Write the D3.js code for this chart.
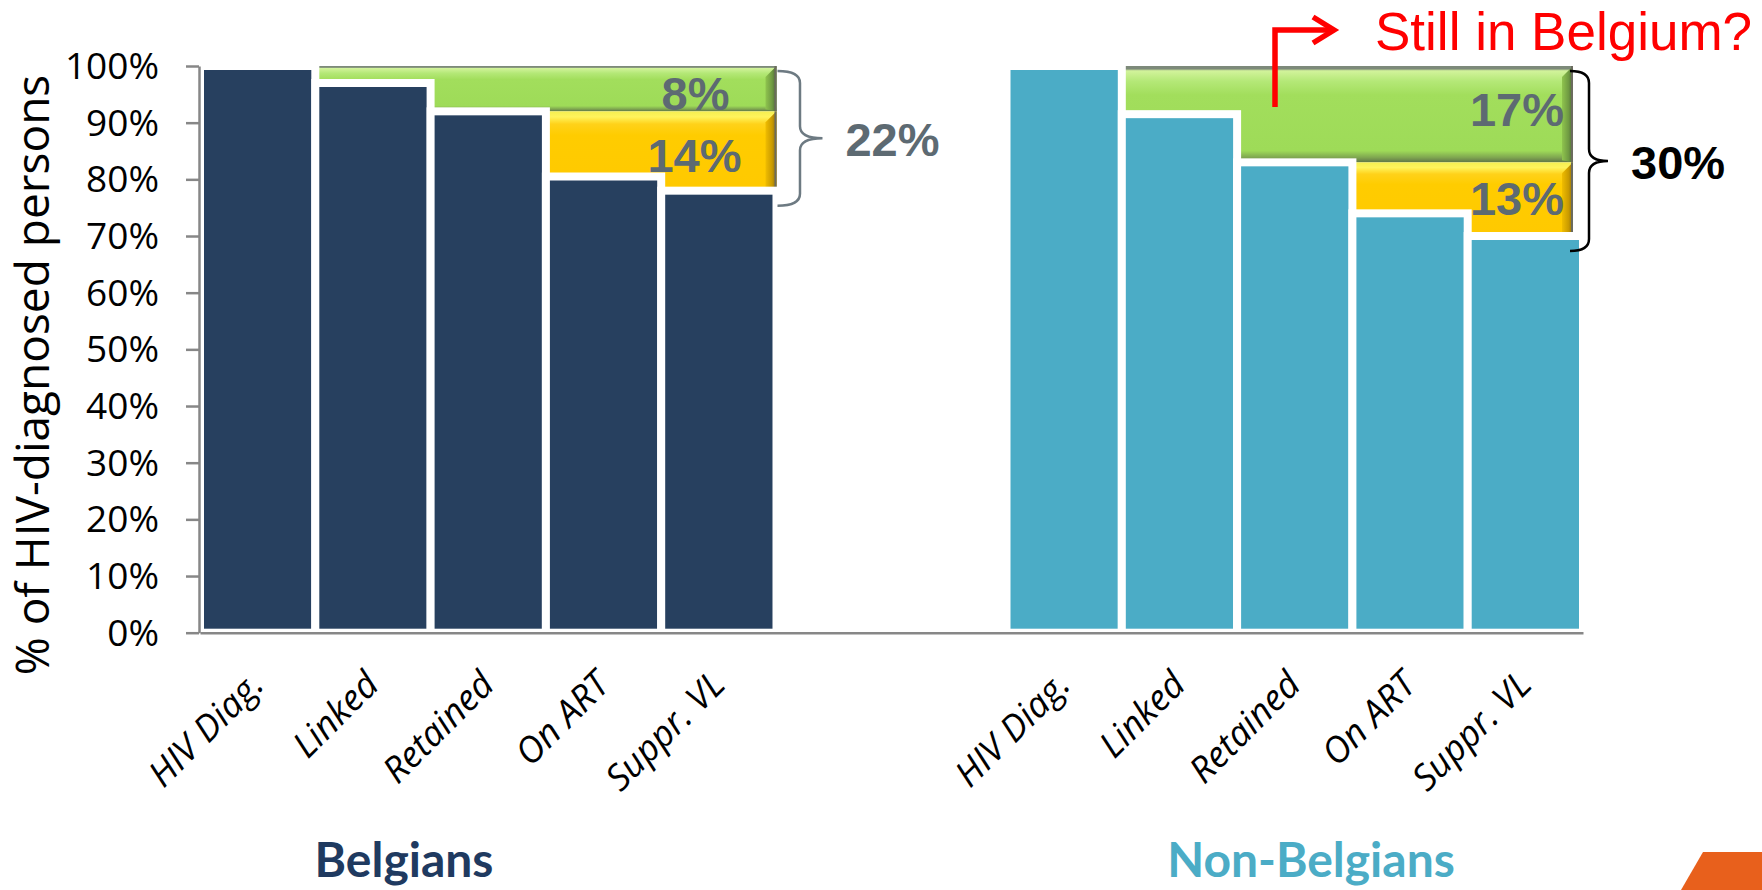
<!DOCTYPE html>
<html>
<head>
<meta charset="utf-8">
<script src="https://cdn.jsdelivr.net/npm/d3@7"></script>
<style>
  html, body { margin: 0; padding: 0; background: #ffffff; }
  svg { display: block; }
</style>
</head>
<body>
<svg id="chart" width="1762" height="890"></svg>
<script>
// ---------------- data ----------------
const groups = ["Belgians", "Non-Belgians"];
const stages = ["HIV Diag.", "Linked", "Retained", "On ART", "Suppr. VL"];
const belgianValues = [100, 97, 92, 80.5, 78];
const nonBelgianValues = [100, 91.5, 83, 74, 70];
const yTicks = [0, 10, 20, 30, 40, 50, 60, 70, 80, 90, 100];
const yTickLabels = ["0%", "10%", "20%", "30%", "40%", "50%", "60%", "70%", "80%", "90%", "100%"];
const yAxisTitle = "% of HIV-diagnosed persons";
const annotationText = "Still in Belgium?";

// ---------------- setup ----------------
const W = 1762, H = 890;
const svg = d3.select("#chart");
const barColors = { "Belgians": "#27405f", "Non-Belgians": "#4bacc6" };
const titleColors = { "Belgians": "#1f3a60", "Non-Belgians": "#4bacc6" };
const totalColors = { "Belgians": "#5d6a72", "Non-Belgians": "#000000" };
const seriesByGroup = { "Belgians": belgianValues, "Non-Belgians": nonBelgianValues };

const y = d3.scaleLinear().domain([0, 100]).range([632.7, 66]);
const outer = d3.scaleBand().domain(groups).range([200, 1583]).paddingInner(0.2852).paddingOuter(0);
const inner = d3.scaleBand().domain(stages).range([0, outer.bandwidth()]).padding(0);

// ---------------- gradients ----------------
const defs = svg.append("defs");
function vGrad(id, stops) {
  const g = defs.append("linearGradient").attr("id", id)
    .attr("x1", 0).attr("y1", 0).attr("x2", 0).attr("y2", 1);
  stops.forEach(s => g.append("stop").attr("offset", s[0]).attr("stop-color", s[1]));
}
function hGrad(id, stops) {
  const g = defs.append("linearGradient").attr("id", id)
    .attr("x1", 0).attr("y1", 0).attr("x2", 1).attr("y2", 0);
  stops.forEach(s => g.append("stop").attr("offset", s[0]).attr("stop-color", s[1]));
}
vGrad("gGreen", [["0", "#7d8a7a"], ["0.03", "#7d8a7a"], ["0.05", "#d2f39b"], ["0.16", "#b4e877"], ["0.3", "#a2de5c"], ["0.88", "#9edb58"], ["0.95", "#7fa650"], ["1", "#5f7548"]]);
vGrad("gYellow", [["0", "#f4ef50"], ["0.07", "#fff45c"], ["0.16", "#ffd21a"], ["0.3", "#ffcc00"], ["1", "#ffc900"]]);
hGrad("gGreenBevel", [["0", "#8fc44e"], ["0.6", "#6f9a42"], ["1", "#4d6436"]]);
hGrad("gYellowBevel", [["0", "#f0bd00"], ["0.6", "#c99a00"], ["1", "#8a6d10"]]);

// ---------------- loss bands (behind bars) ----------------
const bandEndInset = { "Belgians": 0, "Non-Belgians": 10 };
const labelInsets = { "Belgians": [47, 35], "Non-Belgians": [9, 9] };
const labelDy = { "Belgians": [21, 21], "Non-Belgians": [12, 16] };
groups.forEach(g => {
  const v = seriesByGroup[g];
  const x1 = outer(g) + outer.bandwidth() - bandEndInset[g];
  const bands = [
    { from: 100, to: v[2], startStage: stages[1], fill: "url(#gGreen)", bevel: "url(#gGreenBevel)" },
    { from: v[2], to: v[4], startStage: stages[3], fill: "url(#gYellow)", bevel: "url(#gYellowBevel)" }
  ];
  const bg = svg.append("g");
  bands.forEach((b, i) => {
    const x0 = outer(g) + inner(b.startStage);
    const y0 = y(b.from), y1 = y(b.to);
    bg.append("rect").attr("x", x0).attr("y", y0).attr("width", x1 - x0).attr("height", y1 - y0)
      .attr("fill", b.fill);
    const bw = 11;
    bg.append("path")
      .attr("d", `M${x1 - bw},${y0 + bw} L${x1},${y0} L${x1},${y1} L${x1 - bw},${y1 - 2} Z`)
      .attr("fill", b.bevel);
    bg.append("line").attr("x1", x1 - 1).attr("x2", x1 - 1).attr("y1", y0).attr("y2", y1)
      .attr("stroke", "#6b6b5e").attr("stroke-width", 2);
    const pct = Math.round(b.from - b.to);
    bg.append("text")
      .attr("x", x1 - labelInsets[g][i])
      .attr("y", (y0 + y1) / 2 + labelDy[g][i])
      .attr("text-anchor", "end")
      .attr("font-family", "'Liberation Sans', Arial, sans-serif")
      .attr("font-weight", "bold")
      .attr("font-size", 47)
      .attr("fill", "#5d6a72")
      .text(pct + "%");
  });
});

// ---------------- bars ----------------
groups.forEach(g => {
  const v = seriesByGroup[g];
  svg.append("g").selectAll("rect").data(stages).join("rect")
    .attr("x", s => outer(g) + inner(s))
    .attr("y", (s, i) => y(v[i]))
    .attr("width", inner.bandwidth())
    .attr("height", (s, i) => y(0) - y(v[i]))
    .attr("fill", barColors[g])
    .attr("stroke", "#ffffff")
    .attr("stroke-width", 8);
});

// ---------------- axes ----------------
const yAxis = d3.axisLeft(y).tickValues(yTicks)
  .tickFormat((d, i) => yTickLabels[i])
  .tickSize(13).tickSizeOuter(0).tickPadding(27);
const yg = svg.append("g").attr("transform", "translate(199,0)").call(yAxis);
yg.select(".domain").attr("stroke", "#878787").attr("stroke-width", 2.5);
yg.selectAll(".tick line").attr("stroke", "#878787").attr("stroke-width", 2.5);
yg.selectAll(".tick text")
  .attr("font-family", "'Open Sans', sans-serif").attr("font-size", 37).attr("fill", "#000")
  .attr("dy", "0.34em");

const xAxis = d3.axisBottom(outer).tickSize(0).tickSizeOuter(0).tickFormat("");
const xg = svg.append("g").attr("transform", `translate(0,${y(0)})`).call(xAxis);
xg.select(".domain").attr("stroke", "#878787").attr("stroke-width", 2.5);

// category labels
groups.forEach(g => {
  svg.append("g").selectAll("text").data(stages).join("text")
    .attr("transform", s => `translate(${outer(g) + inner(s) + inner.bandwidth() / 2 + 8},${y(0) + 54}) rotate(-45)`)
    .attr("text-anchor", "end")
    .attr("font-family", "'Open Sans', sans-serif")
    .attr("font-style", "italic")
    .attr("font-size", 36)
    .attr("fill", "#000")
    .text(s => s);
});

// y axis title
svg.append("text")
  .attr("transform", "translate(49,375) rotate(-90)")
  .attr("text-anchor", "middle")
  .attr("font-family", "'Open Sans', sans-serif")
  .attr("font-size", 46)
  .attr("fill", "#000")
  .text(yAxisTitle);

// group titles
const titleX = { "Belgians": 404, "Non-Belgians": 1311 };
groups.forEach(g => {
  svg.append("text")
    .attr("x", titleX[g]).attr("y", 877)
    .attr("text-anchor", "middle")
    .attr("font-family", "Lato, sans-serif")
    .attr("font-weight", "bold")
    .attr("font-size", 48)
    .attr("fill", titleColors[g])
    .text(g);
});

// ---------------- braces and totals ----------------
function bracePath(x0, y0, y1, w) {
  const xm = x0 + w * 0.5, xt = x0 + w, ym = (y0 + y1) / 2, r = 12;
  return `M${x0},${y0} Q${xm},${y0} ${xm},${y0 + r} L${xm},${ym - r} Q${xm},${ym} ${xt},${ym}` +
         ` Q${xm},${ym} ${xm},${ym + r} L${xm},${y1 - r} Q${xm},${y1} ${x0},${y1}`;
}
const braceStart = { "Belgians": 1, "Non-Belgians": -13 };
const braceWidth = { "Belgians": 45, "Non-Belgians": 38 };
groups.forEach(g => {
  const v = seriesByGroup[g];
  const x0 = outer(g) + outer.bandwidth() + braceStart[g];
  const y0 = y(100) + 5, y1 = y(v[4]) + 15;
  svg.append("path").attr("d", bracePath(x0, y0, y1, braceWidth[g]))
    .attr("fill", "none").attr("stroke", totalColors[g] === "#000000" ? "#000" : "#6d7a82")
    .attr("stroke-width", 2.5);
  const total = Math.round(v[0] - v[4]);
  svg.append("text")
    .attr("x", x0 + braceWidth[g] + 23)
    .attr("y", (y0 + y1) / 2 + 18)
    .attr("font-family", "'Liberation Sans', Arial, sans-serif")
    .attr("font-weight", "bold")
    .attr("font-size", 47)
    .attr("fill", totalColors[g])
    .text(total + "%");
});

// ---------------- "Still in Belgium?" annotation ----------------
svg.append("path")
  .attr("d", "M1275,107 L1275,30 L1333,30")
  .attr("fill", "none").attr("stroke", "#ff0000").attr("stroke-width", 5.5)
  .attr("stroke-linejoin", "miter");
svg.append("path")
  .attr("d", "M1313,17 L1334,30 L1313,43")
  .attr("fill", "none").attr("stroke", "#ff0000").attr("stroke-width", 5.5)
  .attr("stroke-linecap", "butt");
svg.append("text")
  .attr("x", 1375).attr("y", 50)
  .attr("font-family", "'Liberation Sans', Arial, sans-serif")
  .attr("font-size", 53)
  .attr("fill", "#ff0000")
  .text(annotationText);

// ---------------- decorative corner shape ----------------
svg.append("path")
  .attr("d", "M1681,890 L1703,852 L1762,852 L1762,890 Z")
  .attr("fill", "#e8601c");
</script>
</body>
</html>
